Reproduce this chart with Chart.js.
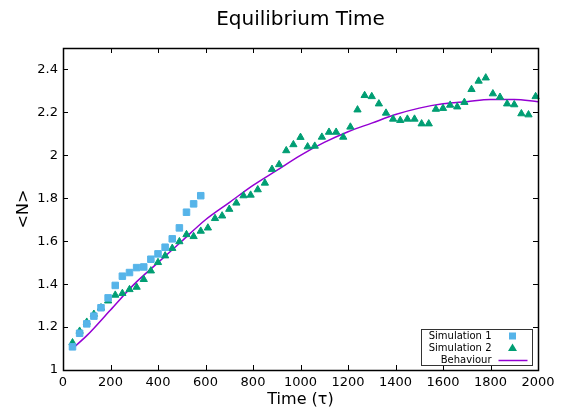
<!DOCTYPE html>
<html>
<head>
<meta charset="utf-8">
<script src="https://cdn.jsdelivr.net/npm/chart.js@4.4.1/dist/chart.umd.min.js"></script>
<style>
  html, body { margin: 0; padding: 0; background: #fff; }
  #wrap { width: 576px; height: 409px; }
</style>
</head>
<body>
<div id="wrap"><canvas id="EqChart"></canvas></div>
<script>
// sample times (tau)
const times = [40, 70, 100, 130, 160, 190, 220, 250, 280, 310, 340, 370, 400, 430, 460, 490, 520, 550, 580,
    610, 640, 670, 700, 730, 760, 790, 820, 850, 880, 910, 940, 970, 1000, 1030, 1060, 1090, 1120, 1150,
    1180, 1210, 1240, 1270, 1300, 1330, 1360, 1390, 1420, 1450, 1480, 1510, 1540, 1570, 1600, 1630, 1660,
    1690, 1720, 1750, 1780, 1810, 1840, 1870, 1900, 1930, 1960, 1990];

const sim1 = [1.108, 1.171, 1.215, 1.251, 1.29, 1.336, 1.394, 1.437, 1.454, 1.477, 1.48, 1.516, 1.541,
    1.572, 1.611, 1.662, 1.735, 1.774, 1.812];

const sim2 = [1.127, 1.181, 1.223, 1.26, 1.29, 1.322, 1.349, 1.357, 1.375, 1.386,
    1.422, 1.462, 1.501, 1.532, 1.567, 1.598, 1.631, 1.622, 1.647, 1.662,
    1.706, 1.718, 1.749, 1.778, 1.812, 1.815, 1.84, 1.871, 1.935, 1.957,
    2.022, 2.05, 2.084, 2.04, 2.043, 2.085, 2.108, 2.108, 2.085, 2.132,
    2.212, 2.279, 2.274, 2.24, 2.197, 2.169, 2.163, 2.169, 2.169, 2.147,
    2.147, 2.215, 2.219, 2.234, 2.226, 2.247, 2.307, 2.346, 2.361, 2.287,
    2.271, 2.24, 2.236, 2.194, 2.189, 2.274];

const fitTimes = [40, 100, 200, 300, 400, 500, 600, 700, 800, 900, 1000, 1100, 1200, 1300, 1400, 1500,
    1600, 1700, 1800, 1900, 2000];
const fitValues = [1.10, 1.16, 1.28, 1.40, 1.50, 1.60, 1.70, 1.78, 1.86, 1.93, 2.00, 2.06, 2.11, 2.15,
    2.19, 2.22, 2.24, 2.25, 2.26, 2.26, 2.25];

const xTicks = [0, 200, 400, 600, 800, 1000, 1200, 1400, 1600, 1800, 2000];
const yTicks = [1, 1.2, 1.4, 1.6, 1.8, 2, 2.2, 2.4];

function pairs(xs, ys) {
    return ys.map((y, i) => ({ x: xs[i], y: y }));
}

// box around the plot, inward ticks on all four sides, legend in lower right
const frame = {
    id: "frame",
    afterDatasetsDraw(chart) {
        const ctx = chart.ctx;
        const { left, right, top, bottom } = chart.chartArea;
        const xs = chart.scales.x, ys = chart.scales.y;
        ctx.save();
        ctx.strokeStyle = "#000";
        ctx.lineWidth = 1;
        ctx.beginPath();
        xTicks.forEach(v => {
            const px = Math.round(xs.getPixelForValue(v)) + 0.5;
            ctx.moveTo(px, bottom); ctx.lineTo(px, bottom - 5);
            ctx.moveTo(px, top); ctx.lineTo(px, top + 5);
        });
        yTicks.forEach(v => {
            const py = Math.round(ys.getPixelForValue(v)) + 0.5;
            ctx.moveTo(left, py); ctx.lineTo(left + 5, py);
            ctx.moveTo(right, py); ctx.lineTo(right - 5, py);
        });
        ctx.stroke();
        ctx.lineWidth = 1.5;
        ctx.strokeRect(Math.round(left) + 0.5, Math.round(top) + 0.5,
            Math.round(right - left), Math.round(bottom - top));

        // legend
        const bx = Math.round(right) - 116.5, by = Math.round(bottom) - 40.5;
        ctx.fillStyle = "#fff";
        ctx.fillRect(bx, by, 111, 36);
        ctx.lineWidth = 1;
        ctx.strokeStyle = "#333";
        ctx.strokeRect(bx, by, 111, 36);
        ctx.font = "10px 'DejaVu Sans'";
        ctx.textAlign = "right";
        ctx.textBaseline = "middle";
        const ds = chart.data.datasets;
        const tx = bx + 70, sx = bx + 91;
        ds.forEach((d, i) => {
            const ty = by + 6.5 + i * 12;
            ctx.fillStyle = "#000";
            ctx.fillText(d.label, tx, ty);
            ctx.fillStyle = d.backgroundColor;
            if (d.pointStyle === "rect") {
                ctx.fillRect(sx - 3.5, ty - 3.5, 7, 7);
            } else if (d.pointStyle === "triangle") {
                ctx.beginPath();
                ctx.moveTo(sx, ty - 4.5);
                ctx.lineTo(sx + 4.5, ty + 3);
                ctx.lineTo(sx - 4.5, ty + 3);
                ctx.closePath();
                ctx.fill();
            } else {
                ctx.strokeStyle = d.borderColor;
                ctx.lineWidth = 1.5;
                ctx.beginPath();
                ctx.moveTo(sx - 14, ty + 0.5);
                ctx.lineTo(sx + 15, ty + 0.5);
                ctx.stroke();
            }
        });
        ctx.restore();
    }
};

new Chart(document.getElementById("EqChart"), {
    type: "scatter",
    data: {
        datasets: [
            {
                label: "Simulation 1",
                data: pairs(times, sim1),
                pointStyle: "rect",
                pointRadius: 4.6,
                borderWidth: 1,
                backgroundColor: "#56B4E9",
                borderColor: "#56B4E9",
                clip: false,
            },
            {
                label: "Simulation 2",
                data: pairs(times, sim2),
                pointStyle: "triangle",
                pointRadius: 4.2,
                borderWidth: 1,
                backgroundColor: "#009E73",
                borderColor: "#009E73",
                clip: false,
            },
            {
                label: "Behaviour",
                data: pairs(fitTimes, fitValues),
                showLine: true,
                pointRadius: 0,
                borderWidth: 1.5,
                borderColor: "#9400D3",
                backgroundColor: "#9400D3",
                cubicInterpolationMode: "monotone",
            },
        ],
    },
    options: {
        responsive: true,
        maintainAspectRatio: false,
        animation: false,
        layout: {
            padding: { left: 0, right: 38, top: 0, bottom: 0 },
        },
        plugins: {
            legend: { display: false },
            tooltip: { enabled: false },
            title: {
                display: true,
                fullSize: false,
                text: "Equilibrium Time",
                color: "#000",
                font: { family: "'DejaVu Sans'", size: 20, weight: "normal" },
                padding: { top: 8, bottom: 16 },
            },
        },
        scales: {
            x: {
                type: "linear",
                min: 0,
                max: 2000,
                afterBuildTicks: s => { s.ticks = xTicks.map(v => ({ value: v })); },
                afterFit: s => { s.height = 39; },
                grid: { display: false, drawTicks: false },
                border: { display: false },
                ticks: {
                    color: "#000",
                    padding: 5,
                    maxRotation: 0,
                    font: { family: "'DejaVu Sans'", size: 13 },
                    callback: v => String(v),
                },
                title: {
                    display: true,
                    text: "Time (τ)",
                    color: "#000",
                    padding: { top: 0, bottom: 0 },
                    font: { family: "'DejaVu Sans'", size: 16 },
                },
            },
            y: {
                type: "linear",
                min: 1,
                max: 2.5,
                afterBuildTicks: s => { s.ticks = yTicks.map(v => ({ value: v })); },
                afterFit: s => { s.width = 63; },
                grid: { display: false, drawTicks: false },
                border: { display: false },
                ticks: {
                    color: "#000",
                    padding: 5,
                    font: { family: "'DejaVu Sans'", size: 13 },
                    callback: v => String(v),
                },
                title: {
                    display: true,
                    text: "<N>",
                    color: "#000",
                    padding: { top: 14, bottom: 0 },
                    font: { family: "'DejaVu Sans'", size: 16 },
                },
            },
        },
    },
    plugins: [frame],
});
</script>
</body>
</html>
